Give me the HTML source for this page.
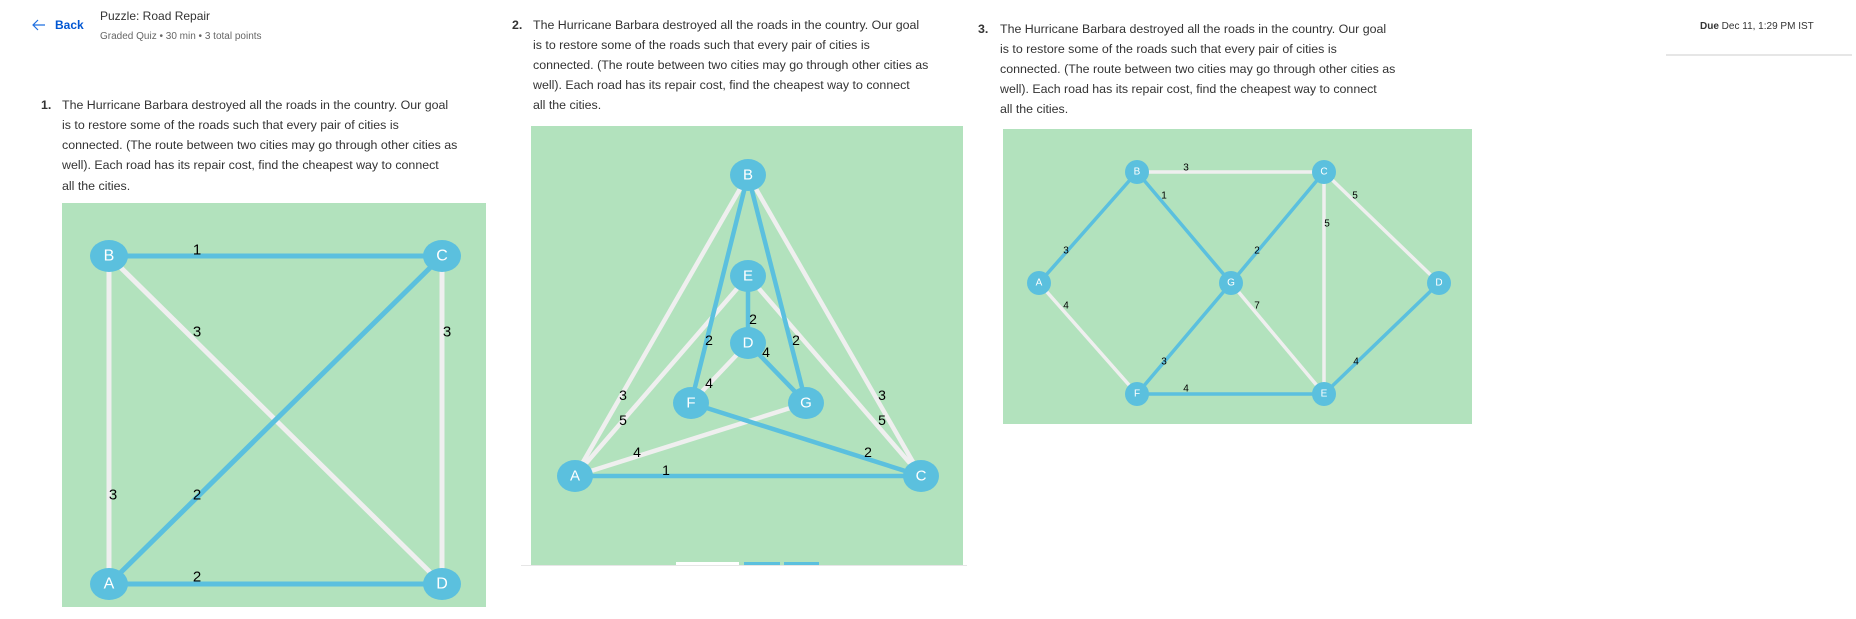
<!DOCTYPE html>
<html><head><meta charset="utf-8"><style>
html,body{margin:0;padding:0;background:#fff;width:1856px;height:619px;overflow:hidden}
svg{display:block}
.t{font-family:"Liberation Sans",sans-serif;font-size:12.4px;fill:#333}
.n{font-family:"Liberation Sans",sans-serif;fill:#fff;text-anchor:middle;dominant-baseline:central}
.l{font-family:"Liberation Sans",sans-serif;fill:#000;text-anchor:middle;dominant-baseline:central}
</style></head><body>
<svg width="1856" height="619" viewBox="0 0 1856 619">
<!-- header -->
<path d="M45 25 H33 M38 20 L33 25 L38 30" stroke="#1f6fe0" stroke-width="1.2" fill="none"/>
<text x="55" y="29" font-family="Liberation Sans" font-weight="bold" font-size="12" fill="#0056d2">Back</text>
<text x="100" y="20" font-family="Liberation Sans" font-size="12" fill="#333">Puzzle: Road Repair</text>
<text x="100" y="39" font-family="Liberation Sans" font-size="10" fill="#666">Graded Quiz • 30 min • 3 total points</text>
<text x="1700" y="29" font-family="Liberation Sans" font-size="10" fill="#333"><tspan font-weight="bold">Due</tspan>  Dec 11, 1:29 PM IST</text>
<line x1="1666" y1="55" x2="1852" y2="55" stroke="#ccc"/>

<!-- Q1 text -->
<text class="t" x="41" y="109" font-weight="bold">1.</text>
<text class="t" x="62" y="109">The Hurricane Barbara destroyed all the roads in the country. Our goal</text>
<text class="t" x="62" y="129">is to restore some of the roads such that every pair of cities is</text>
<text class="t" x="62" y="149">connected. (The route between two cities may go through other cities as</text>
<text class="t" x="62" y="169">well). Each road has its repair cost, find the cheapest way to connect</text>
<text class="t" x="62" y="190">all the cities.</text>
<rect x="62" y="203" width="424" height="404" fill="#b2e2bd"/>
<g stroke-width="5">
<line x1="109" y1="256" x2="109" y2="584" stroke="#efefef"/>
<line x1="109" y1="256" x2="442" y2="584" stroke="#efefef"/>
<line x1="442" y1="256" x2="442" y2="584" stroke="#efefef"/>
<line x1="109" y1="256" x2="442" y2="256" stroke="#5bc0de"/>
<line x1="109" y1="584" x2="442" y2="256" stroke="#5bc0de"/>
<line x1="109" y1="584" x2="442" y2="584" stroke="#5bc0de"/>
</g>
<g fill="#5bc0de"><ellipse cx="109" cy="256" rx="19" ry="16"/><ellipse cx="442" cy="256" rx="19" ry="16"/><ellipse cx="109" cy="584" rx="19" ry="16"/><ellipse cx="442" cy="584" rx="19" ry="16"/></g>
<g class="n" font-size="16"><text x="109" y="256">B</text><text x="442" y="256">C</text><text x="109" y="584">A</text><text x="442" y="584">D</text></g>
<g class="l" font-size="15"><text x="197" y="250">1</text><text x="197" y="332">3</text><text x="447" y="332">3</text><text x="113" y="495">3</text><text x="197" y="495">2</text><text x="197" y="577">2</text></g>

<!-- Q2 -->
<text class="t" x="512" y="29" font-weight="bold">2.</text>
<text class="t" x="533" y="29">The Hurricane Barbara destroyed all the roads in the country. Our goal</text>
<text class="t" x="533" y="49">is to restore some of the roads such that every pair of cities is</text>
<text class="t" x="533" y="69">connected. (The route between two cities may go through other cities as</text>
<text class="t" x="533" y="89">well). Each road has its repair cost, find the cheapest way to connect</text>
<text class="t" x="533" y="109">all the cities.</text>
<rect x="531" y="126" width="432" height="439" fill="#b2e2bd"/>
<line x1="521" y1="565.5" x2="967" y2="565.5" stroke="#e6e6e6"/>
<rect x="676" y="562" width="63" height="3" fill="#fff"/><rect x="744" y="562" width="36" height="3" fill="#5bc0de"/><rect x="784" y="562" width="35" height="3" fill="#5bc0de"/>
<g stroke-width="4.5" stroke="#efefef">
<line x1="748" y1="175" x2="575" y2="476"/><line x1="748" y1="175" x2="921" y2="476"/>
<line x1="748" y1="276" x2="575" y2="476"/><line x1="748" y1="276" x2="921" y2="476"/>
<line x1="748" y1="343" x2="691" y2="403"/><line x1="806" y1="403" x2="575" y2="476"/>
</g>
<g stroke-width="4.5" stroke="#5bc0de">
<line x1="748" y1="175" x2="691" y2="403"/><line x1="748" y1="175" x2="806" y2="403"/>
<line x1="748" y1="276" x2="748" y2="343"/><line x1="748" y1="343" x2="806" y2="403"/>
<line x1="691" y1="403" x2="921" y2="476"/><line x1="575" y1="476" x2="921" y2="476"/>
</g>
<g fill="#5bc0de"><ellipse cx="748" cy="175" rx="18" ry="16"/><ellipse cx="748" cy="276" rx="18" ry="16"/><ellipse cx="748" cy="343" rx="18" ry="16"/><ellipse cx="691" cy="403" rx="18" ry="16"/><ellipse cx="806" cy="403" rx="18" ry="16"/><ellipse cx="575" cy="476" rx="18" ry="16"/><ellipse cx="921" cy="476" rx="18" ry="16"/></g>
<g class="n" font-size="15"><text x="748" y="175">B</text><text x="748" y="276">E</text><text x="748" y="343">D</text><text x="691" y="403">F</text><text x="806" y="403">G</text><text x="575" y="476">A</text><text x="921" y="476">C</text></g>
<g class="l" font-size="14"><text x="623" y="395">3</text><text x="623" y="420">5</text><text x="637" y="452">4</text><text x="666" y="470">1</text><text x="753" y="319">2</text><text x="709" y="340">2</text><text x="766" y="352">4</text><text x="796" y="340">2</text><text x="709" y="383">4</text><text x="882" y="395">3</text><text x="882" y="420">5</text><text x="868" y="452">2</text></g>

<!-- Q3 -->
<text class="t" x="978" y="33" font-weight="bold">3.</text>
<text class="t" x="1000" y="33">The Hurricane Barbara destroyed all the roads in the country. Our goal</text>
<text class="t" x="1000" y="53">is to restore some of the roads such that every pair of cities is</text>
<text class="t" x="1000" y="73">connected. (The route between two cities may go through other cities as</text>
<text class="t" x="1000" y="93">well). Each road has its repair cost, find the cheapest way to connect</text>
<text class="t" x="1000" y="113">all the cities.</text>
<rect x="1003" y="129" width="469" height="295" fill="#b2e2bd"/>
<g stroke-width="3.5" stroke="#efefef">
<line x1="1137" y1="172" x2="1324" y2="172"/><line x1="1324" y1="172" x2="1439" y2="283"/><line x1="1324" y1="172" x2="1324" y2="394"/>
<line x1="1039" y1="283" x2="1137" y2="394"/><line x1="1231" y1="283" x2="1324" y2="394"/>
</g>
<g stroke-width="3.5" stroke="#5bc0de">
<line x1="1137" y1="172" x2="1039" y2="283"/><line x1="1137" y1="172" x2="1231" y2="283"/><line x1="1324" y1="172" x2="1231" y2="283"/>
<line x1="1231" y1="283" x2="1137" y2="394"/><line x1="1439" y1="283" x2="1324" y2="394"/><line x1="1137" y1="394" x2="1324" y2="394"/>
</g>
<g fill="#5bc0de"><circle cx="1137" cy="172" r="12"/><circle cx="1324" cy="172" r="12"/><circle cx="1039" cy="283" r="12"/><circle cx="1231" cy="283" r="12"/><circle cx="1439" cy="283" r="12"/><circle cx="1137" cy="394" r="12"/><circle cx="1324" cy="394" r="12"/></g>
<g class="n" font-size="10"><text x="1137" y="172">B</text><text x="1324" y="172">C</text><text x="1039" y="283">A</text><text x="1231" y="283">G</text><text x="1439" y="283">D</text><text x="1137" y="394">F</text><text x="1324" y="394">E</text></g>
<g class="l" font-size="10"><text x="1186" y="168">3</text><text x="1164" y="196">1</text><text x="1355" y="196">5</text><text x="1327" y="224">5</text><text x="1066" y="251">3</text><text x="1257" y="251">2</text><text x="1066" y="306">4</text><text x="1257" y="306">7</text><text x="1164" y="362">3</text><text x="1356" y="362">4</text><text x="1186" y="389">4</text></g>
</svg>
</body></html>
